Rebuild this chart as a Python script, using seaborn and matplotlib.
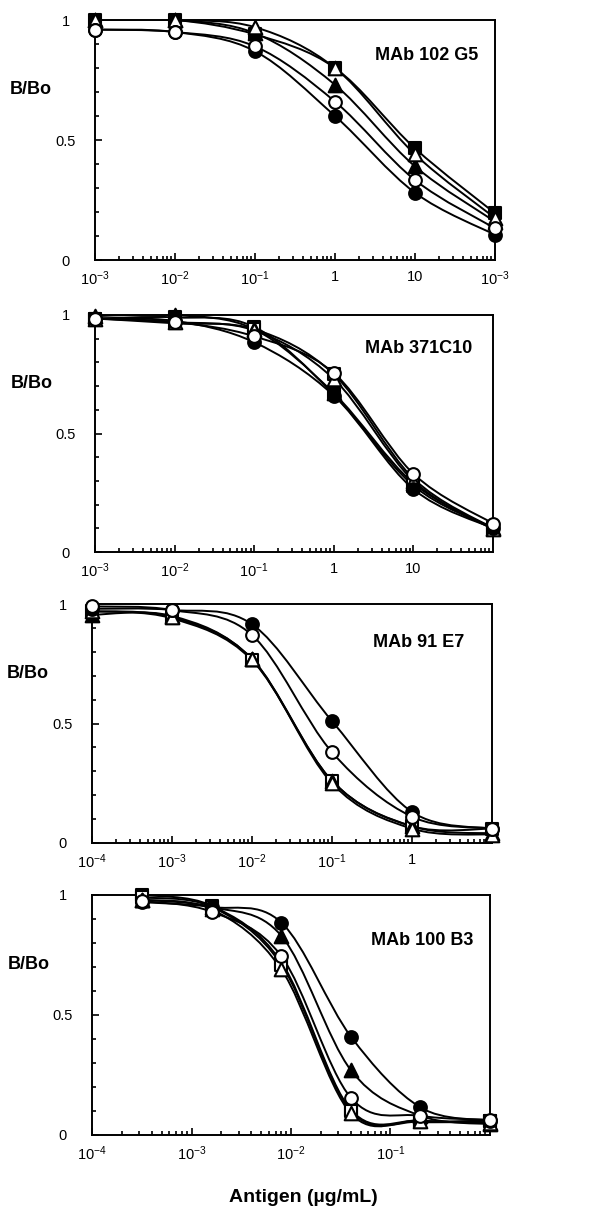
import numpy as np
import seaborn as sns
import matplotlib.pyplot as plt
from matplotlib.path import Path
from matplotlib.patches import PathPatch
from matplotlib.ticker import FixedLocator, FixedFormatter, NullFormatter, LogLocator, MultipleLocator

# concentrations (ug/mL)
conc_102g5 = [1e-3, 1e-2, 1e-1, 1, 10, 100]
conc_371c10 = [1e-3, 1e-2, 1e-1, 1, 10, 100]
conc_91e7 = [1e-4, 1e-3, 1e-2, 1e-1, 1, 10]
conc_100b3 = [0.00032, 0.0016, 0.008, 0.04, 0.2, 1]

# B/Bo values
bbo_102g5 = {
    'sq_fill': [1.0, 1.0, 0.94, 0.80, 0.465, 0.195],
    'tri_fill': [1.0, 1.0, 0.945, 0.73, 0.39, 0.16],
    'tri_open': [1.0, 1.0, 0.97, 0.80, 0.44, 0.175],
    'circ_fill': [0.96, 0.95, 0.87, 0.60, 0.28, 0.105],
    'circ_open': [0.96, 0.95, 0.89, 0.66, 0.333, 0.132],
}
bbo_371c10 = {
    'sq_fill': [0.985, 0.99, 0.95, 0.665, 0.28, 0.10],
    'sq_open': [0.985, 0.965, 0.94, 0.75, 0.31, 0.10],
    'tri_fill': [0.995, 1.0, 0.94, 0.67, 0.29, 0.10],
    'tri_open': [0.985, 0.97, 0.935, 0.73, 0.30, 0.095],
    'circ_fill': [0.985, 0.975, 0.885, 0.66, 0.265, 0.10],
    'circ_open': [0.985, 0.97, 0.91, 0.755, 0.33, 0.12],
}
bbo_91e7 = {
    'sq_open': [0.97, 0.94, 0.765, 0.26, 0.07, 0.06],
    'tri_fill': [0.955, 0.95, 0.77, 0.26, 0.07, 0.04],
    'tri_open': [0.97, 0.945, 0.77, 0.25, 0.06, 0.035],
    'circ_fill': [0.98, 0.975, 0.915, 0.51, 0.13, 0.06],
    'circ_open': [0.99, 0.975, 0.87, 0.38, 0.11, 0.06],
}
bbo_100b3 = {
    'sq_fill': [1.0, 0.955, 0.72, 0.105, 0.06, 0.06],
    'sq_open': [0.99, 0.95, 0.71, 0.10, 0.055, 0.06],
    'tri_fill': [0.98, 0.95, 0.83, 0.27, 0.08, 0.045],
    'tri_open': [0.98, 0.94, 0.69, 0.09, 0.06, 0.05],
    'circ_fill': [0.97, 0.95, 0.885, 0.41, 0.115, 0.06],
    'circ_open': [0.975, 0.93, 0.745, 0.155, 0.08, 0.063],
}

titles = ['MAb 102 G5', 'MAb 371C10', 'MAb 91 E7', 'MAb 100 B3']
xticks_102g5 = [1e-3, 1e-2, 1e-1, 1, 10, 100]
xlabels_102g5 = ['10$^{-3}$', '10$^{-2}$', '10$^{-1}$', '1', '10', '10$^{-3}$']
xticks_371c10 = [1e-3, 1e-2, 1e-1, 1, 10]
xlabels_371c10 = ['10$^{-3}$', '10$^{-2}$', '10$^{-1}$', '1', '10']
xticks_91e7 = [1e-4, 1e-3, 1e-2, 1e-1, 1]
xlabels_91e7 = ['10$^{-4}$', '10$^{-3}$', '10$^{-2}$', '10$^{-1}$', '1']
xticks_100b3 = [1e-4, 1e-3, 1e-2, 1e-1]
xlabels_100b3 = ['10$^{-4}$', '10$^{-3}$', '10$^{-2}$', '10$^{-1}$']

# marker, face colour, size
styles = {
    'sq_fill': ('s', 'black', 78),
    'sq_open': ('s', 'white', 78),
    'tri_fill': ('^', 'black', 96),
    'tri_open': ('^', 'white', 96),
    'circ_fill': ('o', 'black', 84),
    'circ_open': ('o', 'white', 84),
}
order = ['sq_fill', 'sq_open', 'tri_fill', 'tri_open', 'circ_fill', 'circ_open']

sns.set_style('ticks')
plt.rcParams['font.family'] = ['Liberation Sans', 'DejaVu Sans']
plt.rcParams['mathtext.fontset'] = 'custom'
plt.rcParams['mathtext.rm'] = 'Liberation Sans'
plt.rcParams['mathtext.it'] = 'Liberation Sans:italic'
plt.rcParams['mathtext.bf'] = 'Liberation Sans:bold'
for k in ['text.color', 'axes.labelcolor', 'xtick.color', 'ytick.color', 'axes.edgecolor']:
    plt.rcParams[k] = 'black'


def smooth_path(xs, ys):
    # excel-like smoothed line: catmull-rom as bezier in log-x space
    lx = np.log10(xs)
    pts = np.column_stack([lx, ys])
    n = len(pts)
    verts = [pts[0]]
    codes = [Path.MOVETO]
    for i in range(n - 1):
        p0 = pts[max(i - 1, 0)]
        p1 = pts[i]
        p2 = pts[i + 1]
        p3 = pts[min(i + 2, n - 1)]
        c1 = p1 + (p2 - p0) / 6
        c2 = p2 - (p3 - p1) / 6
        verts += [c1, c2, p2]
        codes += [Path.CURVE4] * 3
    verts = np.array(verts)
    verts[:, 0] = 10 ** verts[:, 0]
    return Path(verts, codes)


# axes boxes in pixels: left, top, right, bottom
W, H = 606, 1207
boxes = [(95, 20, 495, 260), (95, 315, 493, 552), (92, 604, 492, 843), (92, 895, 490, 1135)]
panels = [
    (conc_102g5, bbo_102g5, (1e-3, 100), xticks_102g5, xlabels_102g5, (0.957, 0.854)),
    (conc_371c10, bbo_371c10, (1e-3, 100), xticks_371c10, xlabels_371c10, (0.947, 0.86)),
    (conc_91e7, bbo_91e7, (1e-4, 10), xticks_91e7, xlabels_91e7, (0.93, 0.837)),
    (conc_100b3, bbo_100b3, (1e-4, 1), xticks_100b3, xlabels_100b3, (0.957, 0.81)),
]

fig = plt.figure(figsize=(W / 100, H / 100), dpi=100)

for (conc, vals, xlim, xt, xl, tpos), box, title in zip(panels, boxes, titles):
    l, t, r, b = box
    ax = fig.add_axes([l / W, 1 - b / H, (r - l) / W, (b - t) / H])
    ax.set_xscale('log')

    for key in order:
        if key not in vals:
            continue
        ax.add_patch(PathPatch(smooth_path(conc, vals[key]), fill=False,
                               edgecolor='black', lw=1.4, zorder=2))
    for k, key in enumerate(order):
        if key not in vals:
            continue
        m, fc, s = styles[key]
        sns.scatterplot(x=conc, y=vals[key], ax=ax, marker=m, s=s, color=fc,
                        edgecolor='black', linewidth=1.5, zorder=3 + k, clip_on=False)

    ax.set_xlim(*xlim)
    ax.set_ylim(0, 1)
    ax.xaxis.set_major_locator(FixedLocator(xt))
    ax.xaxis.set_major_formatter(FixedFormatter(xl))
    ax.xaxis.set_minor_locator(LogLocator(base=10, subs=np.arange(2, 10)))
    ax.xaxis.set_minor_formatter(NullFormatter())
    ax.yaxis.set_major_locator(FixedLocator([0, 0.5, 1]))
    ax.yaxis.set_major_formatter(FixedFormatter(['0', '0.5', '1']))
    ax.yaxis.set_minor_locator(MultipleLocator(0.1))
    ax.tick_params(which='both', direction='in', width=1.2, labelsize=10.5)
    ax.tick_params(which='major', length=5)
    ax.tick_params(which='minor', length=3)
    ax.tick_params(axis='x', pad=7)
    ax.tick_params(axis='y', pad=21)
    for lab in ax.get_yticklabels():
        lab.set_horizontalalignment('center')
    for sp in ax.spines.values():
        sp.set_linewidth(1.4)
    ax.set_xlabel('')
    ax.set_ylabel('')

    ax.text(-0.2125, 0.71, 'B/Bo', transform=ax.transAxes, ha='left', va='center',
            fontsize=13, fontweight='bold')
    ax.text(tpos[0], tpos[1], title, transform=ax.transAxes, ha='right', va='center',
            fontsize=13, fontweight='bold')

fig.text(303 / W, 1 - 1198 / H, 'Antigen (µg/mL)', ha='center', va='center',
         fontsize=14, fontweight='bold')

plt.savefig('out.png', dpi=100)
plt.close()
